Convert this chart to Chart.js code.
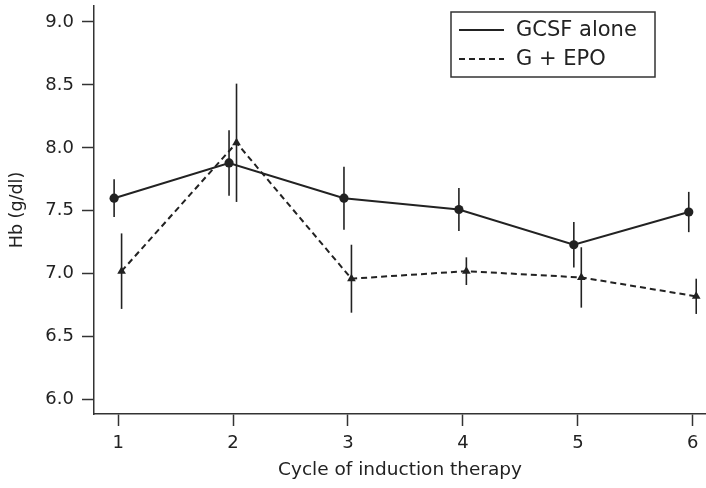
<!DOCTYPE html>
<html>
<head>
<meta charset="utf-8">
<script src="https://cdn.jsdelivr.net/npm/chart.js@4/dist/chart.umd.min.js"></script>
<style>
  html, body { margin: 0; padding: 0; background: #fff; }
  #wrap { width: 706px; height: 488px; }
</style>
</head>
<body>
<div id="wrap"><canvas id="c" width="706" height="488"></canvas></div>
<script>
// ---- data ----
const cycles = [1, 2, 3, 4, 5, 6];
const gcsfMean = [7.60, 7.88, 7.60, 7.51, 7.23, 7.49];
const gcsfErr  = [0.15, 0.26, 0.25, 0.17, 0.18, 0.16];
const epoMean  = [7.02, 8.04, 6.96, 7.02, 6.97, 6.82];
const epoErr   = [0.30, 0.47, 0.27, 0.11, 0.24, 0.14];
const yTickValues = [6.0, 6.5, 7.0, 7.5, 8.0, 8.5, 9.0];
const seriesLabels = ['GCSF alone', 'G + EPO'];
const xTitle = 'Cycle of induction therapy';
const yTitle = 'Hb (g/dl)';
const gcsfDodge = -0.035;
const epoDodge = 0.03;

const ink = '#222';
const FONT = "'DejaVu Sans', 'Liberation Sans', Arial, sans-serif";

const gcsfPts = cycles.map((c, i) => ({ x: c + gcsfDodge, y: gcsfMean[i], e: gcsfErr[i] }));
const epoPts  = cycles.map((c, i) => ({ x: c + epoDodge,  y: epoMean[i],  e: epoErr[i] }));

const errorBars = {
  id: 'errorBars',
  beforeDatasetsDraw(chart) {
    const ctx = chart.ctx;
    const xs = chart.scales.x, ys = chart.scales.y;
    ctx.save();
    ctx.strokeStyle = ink;
    ctx.lineWidth = 1.6;
    chart.data.datasets.forEach(ds => {
      ds.data.forEach(p => {
        const px = xs.getPixelForValue(p.x);
        ctx.beginPath();
        ctx.moveTo(px, ys.getPixelForValue(p.y + p.e));
        ctx.lineTo(px, ys.getPixelForValue(p.y - p.e));
        ctx.stroke();
      });
    });
    ctx.restore();
  }
};

const boxLegend = {
  id: 'boxLegend',
  afterDraw(chart) {
    const ctx = chart.ctx;
    const bx = 451, by = 12, bw = 204, bh = 65;
    ctx.save();
    ctx.strokeStyle = '#333';
    ctx.lineWidth = 1.5;
    ctx.fillStyle = '#fff';
    ctx.fillRect(bx, by, bw, bh);
    ctx.strokeRect(bx, by, bw, bh);
    ctx.font = '21px ' + FONT;
    ctx.textBaseline = 'middle';
    ctx.textAlign = 'left';
    chart.data.datasets.forEach((ds, i) => {
      const ry = by + 18 + i * 29;
      ctx.beginPath();
      ctx.setLineDash(ds.borderDash || []);
      ctx.strokeStyle = ink;
      ctx.lineWidth = 1.8;
      ctx.moveTo(bx + 8, ry);
      ctx.lineTo(bx + 53, ry);
      ctx.stroke();
      ctx.setLineDash([]);
      ctx.fillStyle = ink;
      ctx.fillText(ds.label, bx + 65, ry + 1);
    });
    ctx.restore();
  }
};

new Chart(document.getElementById('c'), {
  type: 'line',
  data: {
    datasets: [
      {
        label: seriesLabels[0],
        data: gcsfPts,
        borderColor: ink,
        backgroundColor: ink,
        borderWidth: 2,
        pointStyle: 'circle',
        pointRadius: 4.6,
        pointBackgroundColor: ink,
        pointBorderWidth: 0,
        tension: 0
      },
      {
        label: seriesLabels[1],
        data: epoPts,
        borderColor: ink,
        backgroundColor: ink,
        borderWidth: 2,
        borderDash: [6, 4],
        pointStyle: 'triangle',
        pointRadius: 5,
        pointBackgroundColor: ink,
        pointBorderWidth: 0,
        tension: 0
      }
    ]
  },
  options: {
    responsive: false,
    animation: false,
    layout: { autoPadding: false, padding: { top: 6, right: 0, left: 0, bottom: 0 } },
    plugins: { legend: { display: false }, tooltip: { enabled: false } },
    scales: {
      x: {
        type: 'linear',
        min: 0.79,
        max: 6.115,
        afterBuildTicks: s => { s.ticks = cycles.map(v => ({ value: v })); },
        afterFit: s => { s.height = 74; s.paddingLeft = 0; s.paddingRight = 0; },
        grid: { drawOnChartArea: false, drawTicks: true, tickLength: 12, tickColor: '#333', tickWidth: 1.5 },
        border: { display: true, color: '#333', width: 1.5 },
        ticks: { color: ink, font: { family: FONT, size: 18 }, padding: 7, maxRotation: 0,
                 callback: v => String(v) },
        title: { display: true, text: xTitle, color: ink, font: { family: FONT, size: 18.5 },
                 padding: { top: 0, bottom: 7 } }
      },
      y: {
        type: 'linear',
        min: 5.885,
        max: 9.127,
        afterBuildTicks: s => { s.ticks = yTickValues.map(v => ({ value: v })); },
        afterFit: s => { s.width = 94; s.paddingTop = 0; s.paddingBottom = 0; },
        grid: { drawOnChartArea: false, drawTicks: true, tickLength: 12, tickColor: '#333', tickWidth: 1.5 },
        border: { display: true, color: '#333', width: 1.5 },
        ticks: { color: ink, font: { family: FONT, size: 18 }, padding: 8,
                 callback: v => Number(v).toFixed(1) },
        title: { display: true, text: yTitle, color: ink, font: { family: FONT, size: 17.5 },
                 padding: { top: 7, bottom: 0 } }
      }
    }
  },
  plugins: [errorBars, boxLegend]
});
</script>
</body>
</html>
